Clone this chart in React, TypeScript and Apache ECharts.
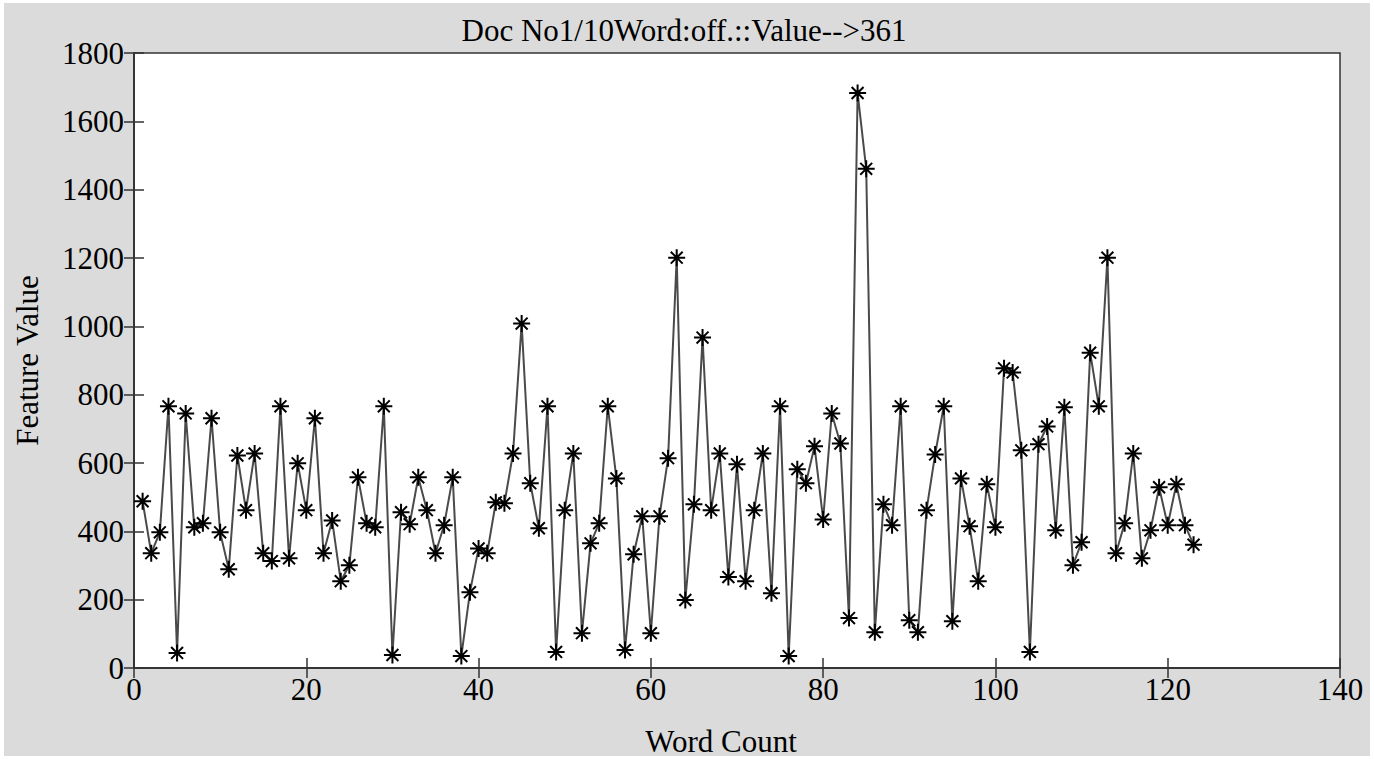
import React, { useEffect, useRef } from "react";
import * as echarts from "echarts";

const TITLE = "Doc No1/10Word:off.::Value-->361";
const X_NAME = "Word Count";
const Y_NAME = "Feature Value";

const featureValues: number[] = [
  488, 336, 397, 766, 44, 745, 412, 424, 731, 397,
  289, 622, 462, 628, 336, 313, 766, 321, 599, 462,
  731, 336, 432, 254, 301, 558, 424, 412, 766, 38,
  456, 421, 558, 462, 336, 418, 558, 35, 222, 350,
  336, 485, 482, 628, 1008, 541, 409, 766, 47, 462,
  628, 102, 365, 424, 766, 555, 53, 333, 444, 102,
  444, 614, 1201, 199, 479, 967, 462, 628, 266, 596,
  254, 462, 628, 219, 766, 35, 582, 541, 649, 435,
  745, 657, 146, 1683, 1461, 105, 479, 418, 766, 140,
  105, 462, 625, 766, 137, 555, 415, 254, 538, 412,
  877, 865, 637, 47, 655, 707, 403, 763, 301, 368,
  923, 766, 1201, 336, 424, 628, 321, 403, 529, 418,
  538, 418, 361,
];

const wordCounts: number[] = featureValues.map((_, i) => i + 1);

const X_MIN = 0;
const X_MAX = 140;
const X_STEP = 20;
const Y_MIN = 0;
const Y_MAX = 1800;
const Y_STEP = 200;

const ASTERISK =
  "path://M0,-10L0,10M-10,0L10,0M-7,-7L7,7M-7,7L7,-7";

const FONT = "'Liberation Serif', 'Times New Roman', serif";
const FS = 31;

export default function App() {
  const ref = useRef<HTMLDivElement>(null);

  useEffect(() => {
    if (!ref.current) return;
    const chart = echarts.init(ref.current, undefined, { renderer: "svg" });
    const data = wordCounts.map((x, i) => [x, featureValues[i]]);
    const axisLine = { show: true, lineStyle: { color: "#333", width: 1.5 } };
    const axisTick = { show: true, inside: true, length: 10, lineStyle: { color: "#333", width: 1.5 } };
    const plain = (v: number) => String(v);
    chart.setOption({
      animation: false,
      backgroundColor: "#ffffff",
      textStyle: { fontFamily: FONT },
      graphic: [
        {
          type: "rect",
          z: -10,
          silent: true,
          shape: { x: 4, y: 3, width: 1366, height: 753 },
          style: { fill: "#dbdbdb" },
        },
        {
          type: "text",
          x: 684,
          y: 30,
          style: {
            text: TITLE,
            fontFamily: FONT,
            fontSize: FS,
            fill: "#000",
            textAlign: "center",
            textVerticalAlign: "middle",
          },
        },
      ],
      grid: {
        left: 134,
        top: 53,
        right: 34,
        bottom: 91,
        show: true,
        outerBoundsMode: "none",
        containLabel: false,
        backgroundColor: "#ffffff",
        borderColor: "#333",
        borderWidth: 1.5,
      },
      xAxis: [
        {
          type: "value",
          min: X_MIN,
          max: X_MAX,
          interval: X_STEP,
          position: "bottom",
          name: X_NAME,
          nameLocation: "middle",
          nameGap: 58,
          nameTextStyle: { fontFamily: FONT, fontSize: FS, color: "#000", padding: [0, 32, 0, 0] },
          axisLine,
          axisTick,
          splitLine: { show: false },
          axisLabel: { fontFamily: FONT, fontSize: FS, color: "#000", margin: 6, formatter: plain },
        },
        {
          type: "value",
          min: X_MIN,
          max: X_MAX,
          interval: X_STEP,
          position: "top",
          axisLine,
          axisTick,
          splitLine: { show: false },
          axisLabel: { show: false },
        },
      ],
      yAxis: [
        {
          type: "value",
          min: Y_MIN,
          max: Y_MAX,
          interval: Y_STEP,
          position: "left",
          name: Y_NAME,
          nameLocation: "middle",
          nameGap: 91,
          nameRotate: 90,
          nameTextStyle: { fontFamily: FONT, fontSize: FS, color: "#000" },
          axisLine,
          axisTick,
          splitLine: { show: false },
          axisLabel: { fontFamily: FONT, fontSize: FS, color: "#000", margin: 10, formatter: plain },
        },
        {
          type: "value",
          min: Y_MIN,
          max: Y_MAX,
          interval: Y_STEP,
          position: "right",
          axisLine,
          axisTick,
          splitLine: { show: false },
          axisLabel: { show: false },
        },
      ],
      series: [
        {
          type: "line",
          data,
          xAxisIndex: 0,
          yAxisIndex: 0,
          symbol: ASTERISK,
          symbolSize: 17,
          showAllSymbol: true,
          lineStyle: { color: "#4a4a4a", width: 2 },
          itemStyle: { color: "#000", borderColor: "#000", borderWidth: 2 },
          z: 3,
        },
      ],
    });
    return () => chart.dispose();
  }, []);

  return (
    <div
      ref={ref}
      style={{ position: "fixed", left: 0, top: 0, width: 1374, height: 759 }}
    />
  );
}
